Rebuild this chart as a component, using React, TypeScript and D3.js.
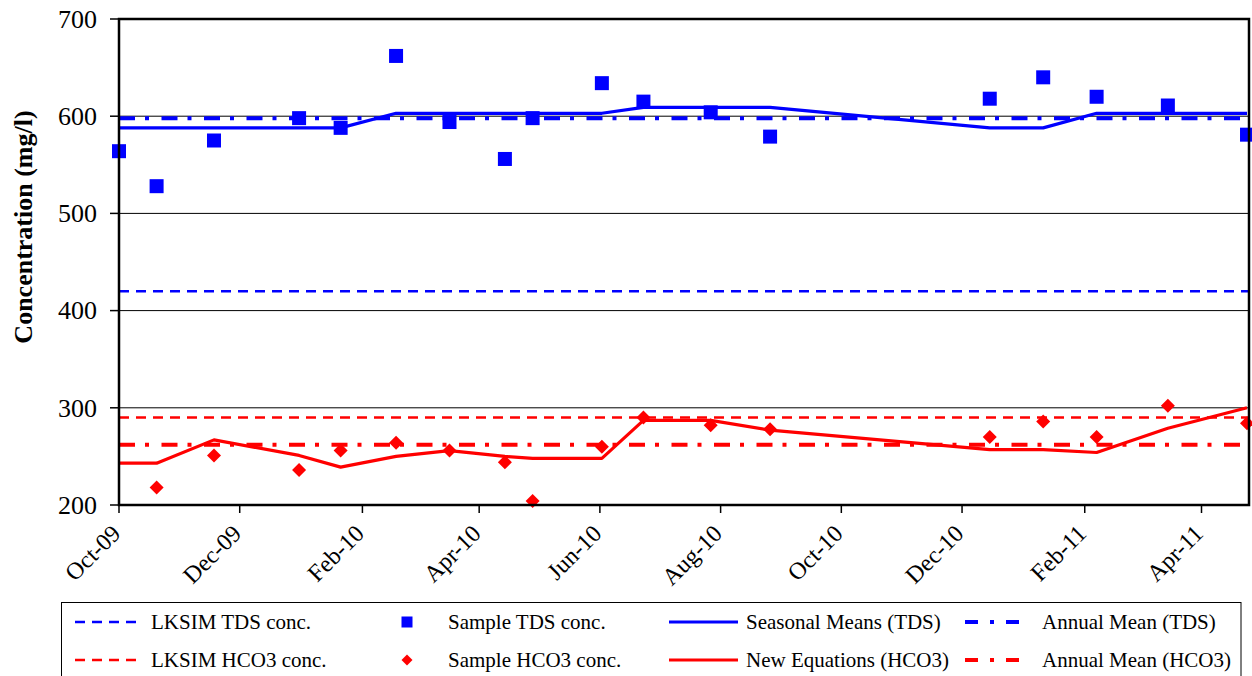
import React from "react";
import * as d3 from "d3";

const sampleDates = [
  "2009-10-01", "2009-10-20", "2009-11-18", "2009-12-31", "2010-01-21", "2010-02-18",
  "2010-03-17", "2010-04-14", "2010-04-28", "2010-06-02", "2010-06-23", "2010-07-27",
  "2010-08-26", "2010-12-15", "2011-01-11", "2011-02-07", "2011-03-15", "2011-04-24",
];
const sampleTDS = [564, 528, 575, 598, 588, 662, 594, 556, 598, 634, 615, 604, 579, 618, 640, 620, 611, 581];
const sampleHCO3: (number | null)[] = [null, 218, 251, 236, 256, 264, 256, 244, 204, 260, 290, 282, 278, 270, 286, 270, 302, 284];
const seasonalTDS = [588, 588, 588, 588, 588, 603, 603, 603, 603, 603, 609, 609, 609, 588, 588, 603, 603, 603];
const newEqHCO3 = [243, 243, 267, 251, 239, 250, 256, 250, 248, 248, 287, 287, 277, 257, 257, 254, 279, 300];
const lksimTDS = 420;
const lksimHCO3 = 290;
const annualTDS = 598;
const annualHCO3 = 262;
const yTicks = [200, 300, 400, 500, 600, 700];
const xTickDates = [
  "2009-10-01", "2009-12-01", "2010-02-01", "2010-04-01", "2010-06-01", "2010-08-01",
  "2010-10-01", "2010-12-01", "2011-02-01", "2011-04-01",
];
const xDomain = ["2009-10-01", "2011-04-25"];

const FONT = '"Liberation Serif", "Times New Roman", serif';
const BLUE = "#0000ff";
const RED = "#ff0000";

export default function App() {
  const parse = d3.utcParse("%Y-%m-%d");
  const fmt = d3.utcFormat("%b-%y");
  const left = 119, right = 1249, top = 19, bottom = 505;
  const x = d3.scaleUtc().domain(xDomain.map((d) => parse(d) as Date)).range([left, right]);
  const y = d3.scaleLinear().domain([200, 700]).range([bottom, top]);
  const dates = sampleDates.map((d) => parse(d) as Date);

  const line = d3
    .line<[Date, number]>()
    .x((d) => x(d[0]))
    .y((d) => y(d[1]));

  const seasonalPath = line(dates.map((d, i) => [d, seasonalTDS[i]] as [Date, number])) || "";
  const newEqPath = line(dates.map((d, i) => [d, newEqHCO3[i]] as [Date, number])) || "";

  const dashA = "16,10,4,12.5";
  const dashL = "10,7";

  const legendRows = [622, 660];
  const diamond = (cx: number, cy: number, r: number) =>
    `M${cx},${cy - r}L${cx + r},${cy}L${cx},${cy + r}L${cx - r},${cy}Z`;

  return (
    <div style={{ position: "absolute", left: 0, top: 0 }}>
      <svg width={1252} height={676} style={{ display: "block", background: "#fff" }} fontFamily={FONT}>
        <rect x={0} y={0} width={1252} height={676} fill="#fff" />
        {/* gridlines */}
        {yTicks.filter((t) => t > 200 && t < 700).map((t) => (
          <line key={"g" + t} x1={left} x2={right} y1={y(t)} y2={y(t)} stroke="#000" strokeWidth={1} />
        ))}
        {/* y ticks & labels */}
        {yTicks.map((t) => (
          <g key={"yt" + t}>
            <line x1={left - 9} x2={left} y1={y(t)} y2={y(t)} stroke="#000" strokeWidth={1.5} />
            <text x={97} y={y(t)} dy="0.34em" textAnchor="end" fontSize={26} fill="#000">
              {t}
            </text>
          </g>
        ))}
        {/* x ticks & labels */}
        {xTickDates.map((s) => {
          const d = parse(s) as Date;
          const xx = x(d);
          return (
            <g key={"xt" + s}>
              <line x1={xx} x2={xx} y1={bottom} y2={bottom + 8} stroke="#000" strokeWidth={1.5} />
              <text
                transform={`translate(${xx + 3},${bottom + 30}) rotate(-45)`}
                textAnchor="end"
                fontSize={24}
                fill="#000"
              >
                {fmt(d)}
              </text>
            </g>
          );
        })}
        {/* y title */}
        <text
          transform={`translate(32,227) rotate(-90)`}
          textAnchor="middle"
          fontSize={26}
          fontWeight="bold"
          fill="#000"
        >
          Concentration (mg/l)
        </text>
        {/* horizontal reference lines */}
        <line x1={left} x2={right} y1={y(lksimTDS)} y2={y(lksimTDS)} stroke={BLUE} strokeWidth={2.5} strokeDasharray={dashL} />
        <line x1={left} x2={right} y1={y(lksimHCO3)} y2={y(lksimHCO3)} stroke={RED} strokeWidth={2.5} strokeDasharray={dashL} />
        <line x1={left} x2={right} y1={y(annualTDS)} y2={y(annualTDS)} stroke={BLUE} strokeWidth={4} strokeDasharray={dashA} />
        <line x1={left} x2={right} y1={y(annualHCO3)} y2={y(annualHCO3)} stroke={RED} strokeWidth={4} strokeDasharray={dashA} />
        {/* series lines */}
        <path d={seasonalPath} fill="none" stroke={BLUE} strokeWidth={3.2} strokeLinejoin="round" />
        <path d={newEqPath} fill="none" stroke={RED} strokeWidth={3.2} strokeLinejoin="round" />
        {/* markers */}
        {dates.map((d, i) => (
          <rect key={"s" + i} x={x(d) - 7} y={y(sampleTDS[i]) - 7} width={14} height={14} fill={BLUE} />
        ))}
        {dates.map((d, i) =>
          sampleHCO3[i] == null ? null : (
            <path key={"h" + i} d={diamond(x(d), y(sampleHCO3[i] as number), 7)} fill={RED} />
          )
        )}
        {/* frame */}
        <rect x={left} y={top} width={right - left} height={bottom - top} fill="none" stroke="#000" strokeWidth={2.5} />
        {/* legend */}
        <rect x={61.5} y={602.5} width={1179.5} height={120} fill="none" stroke="#000" strokeWidth={1} />
        {/* col1 */}
        <line x1={75} x2={139} y1={legendRows[0]} y2={legendRows[0]} stroke={BLUE} strokeWidth={2.5} strokeDasharray={dashL} />
        <text x={151} y={legendRows[0]} dy="0.34em" fontSize={21}>LKSIM TDS conc.</text>
        <line x1={75} x2={139} y1={legendRows[1]} y2={legendRows[1]} stroke={RED} strokeWidth={2.5} strokeDasharray={dashL} />
        <text x={151} y={legendRows[1]} dy="0.34em" fontSize={21}>LKSIM HCO3 conc.</text>
        {/* col2 */}
        <rect x={407 - 5.5} y={legendRows[0] - 5.5} width={11} height={11} fill={BLUE} />
        <text x={448} y={legendRows[0]} dy="0.34em" fontSize={21}>Sample TDS conc.</text>
        <path d={diamond(407, legendRows[1], 5.5)} fill={RED} />
        <text x={448} y={legendRows[1]} dy="0.34em" fontSize={21}>Sample HCO3 conc.</text>
        {/* col3 */}
        <line x1={669} x2={738} y1={legendRows[0]} y2={legendRows[0]} stroke={BLUE} strokeWidth={3.2} />
        <text x={746} y={legendRows[0]} dy="0.34em" fontSize={21}>Seasonal Means (TDS)</text>
        <line x1={669} x2={738} y1={legendRows[1]} y2={legendRows[1]} stroke={RED} strokeWidth={3.2} />
        <text x={746} y={legendRows[1]} dy="0.34em" fontSize={21}>New Equations (HCO3)</text>
        {/* col4 */}
        <line x1={965} x2={1022} y1={legendRows[0]} y2={legendRows[0]} stroke={BLUE} strokeWidth={4} strokeDasharray="13,12,4,12" />
        <text x={1042} y={legendRows[0]} dy="0.34em" fontSize={21}>Annual Mean (TDS)</text>
        <line x1={965} x2={1022} y1={legendRows[1]} y2={legendRows[1]} stroke={RED} strokeWidth={4} strokeDasharray="13,12,4,12" />
        <text x={1042} y={legendRows[1]} dy="0.34em" fontSize={21}>Annual Mean (HCO3)</text>
      </svg>
    </div>
  );
}
